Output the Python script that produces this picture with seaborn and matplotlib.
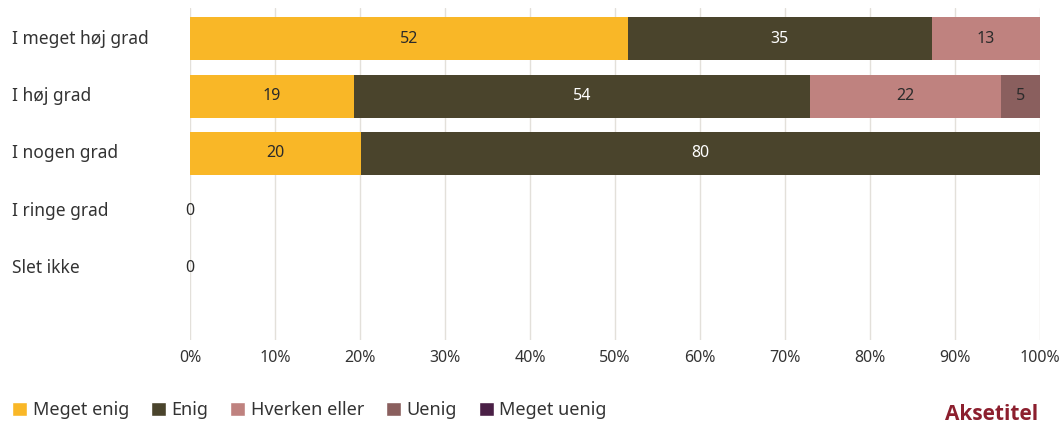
import matplotlib
matplotlib.use("Agg")
import matplotlib.pyplot as plt
from matplotlib.patches import Patch
import seaborn as sns
import pandas as pd

# data (shares in percent, labels as printed)
categories = ["I meget høj grad", "I høj grad", "I nogen grad", "I ringe grad", "Slet ikke"]
series = ["Meget enig", "Enig", "Hverken eller", "Uenig", "Meget uenig"]
meget_enig = [51.5, 19.3, 20.1, 0, 0]
enig = [35.8, 53.6, 79.9, 0, 0]
hverken = [12.7, 22.5, 0, 0, 0]
uenig = [0, 4.6, 0, 0, 0]
meget_uenig = [0, 0, 0, 0, 0]
labels_me = ["52", "19", "20", "", ""]
labels_en = ["35", "54", "80", "", ""]
labels_hv = ["13", "22", "", "", ""]
labels_ue = ["", "5", "", "", ""]
labels_mu = ["", "", "", "", ""]

colors = ["#F9B727", "#4A442C", "#BF827F", "#8A5F5E", "#4A2046"]
text_colors = ["#2b2b2b", "#ffffff", "#2b2b2b", "#2b2b2b", "#ffffff"]

sns.set_style("white")
plt.rcParams["font.family"] = ["Noto Sans", "DejaVu Sans"]

df = pd.DataFrame({"kategori": categories, "Meget enig": meget_enig, "Enig": enig,
                   "Hverken eller": hverken, "Uenig": uenig, "Meget uenig": meget_uenig})
cum = df[series].cumsum(axis=1)

fig = plt.figure(figsize=(10.63, 4.25), dpi=100)
ax = fig.add_axes([190 / 1063, 85 / 425, 850 / 1063, 332 / 425])

# stacked bars: draw cumulative totals from the widest down
for s, c in reversed(list(zip(series, colors))):
    sns.barplot(data=cum.assign(kategori=categories), x=s, y="kategori", color=c,
                orient="h", width=0.75, saturation=1, linewidth=0, ax=ax, zorder=3)

all_labels = [labels_me, labels_en, labels_hv, labels_ue, labels_mu]
for j, s in enumerate(series):
    for i in range(len(categories)):
        if all_labels[j][i] and df[s][i] > 0:
            mid = cum[s][i] - df[s][i] / 2
            ax.text(mid, i, all_labels[j][i], ha="center", va="center",
                    fontsize=11.5, color=text_colors[j], zorder=4)
# empty rows get a 0 at the axis
for i in range(len(categories)):
    if cum[series[-1]][i] == 0:
        ax.text(0, i, "0", ha="center", va="center", fontsize=11.5, color="#2b2b2b", zorder=4)

ax.set_xlim(0, 100)
ax.set_ylim(4 + 1.26, -0.54)
ax.set_xticks(range(0, 101, 10))
ax.set_xticklabels([f"{t}%" for t in range(0, 101, 10)], fontsize=11.5, color="#333333")
ax.grid(axis="x", color="#E3E0DA", linewidth=1, zorder=0)
ax.set_axisbelow(True)
ax.set_xlabel("")
ax.set_ylabel("")
sns.despine(ax=ax, left=True, bottom=True)
ax.tick_params(axis="both", length=0)
ax.tick_params(axis="x", pad=7)
ax.set_yticks(range(len(categories)))
ax.set_yticklabels(categories, fontsize=12.5, color="#333333", ha="left", va="center")
ax.tick_params(axis="y", pad=178 * 72 / 100)

handles = [Patch(facecolor=c, label=s) for s, c in zip(series, colors)]
fig.legend(handles=handles, loc="lower left", bbox_to_anchor=(-0.004, -0.025), ncol=5,
           frameon=False, fontsize=13, handlelength=0.85, handleheight=0.85,
           handletextpad=0.3, columnspacing=1.2, labelcolor="#333333")
fig.text(1038 / 1063, 0.0, "Aksetitel", ha="right", va="bottom", fontsize=15,
         fontweight="bold", color="#8C1F2E", family=["Open Sans", "DejaVu Sans"])

fig.savefig("out.png", dpi=100)
